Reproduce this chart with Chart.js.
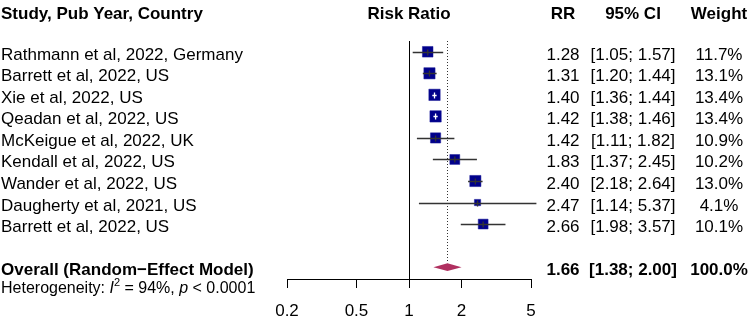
<!DOCTYPE html>
<html>
<head>
<meta charset="utf-8">
<title>Forest plot - risk ratio</title>
<script src="https://cdn.jsdelivr.net/npm/chart.js@4.4.0/dist/chart.umd.min.js"></script>
<style>
  body { margin: 0; background: #ffffff; }
  #wrap { position: relative; width: 751px; height: 323px; }
</style>
</head>
<body>
<div id="wrap"><canvas id="forest"></canvas></div>
<script>
// studies, top to bottom
var studies = [
	"Rathmann et al, 2022, Germany",
	"Barrett et al, 2022, US",
	"Xie et al, 2022, US",
	"Qeadan et al, 2022, US",
	"McKeigue et al, 2022, UK",
	"Kendall et al, 2022, US",
	"Wander et al, 2022, US",
	"Daugherty et al, 2021, US",
	"Barrett et al, 2022, US"
];
var rr = [1.28, 1.31, 1.40, 1.42, 1.42, 1.83, 2.40, 2.47, 2.66];
var ciLow = [1.05, 1.20, 1.36, 1.38, 1.11, 1.37, 2.18, 1.14, 1.98];
var ciHigh = [1.57, 1.44, 1.44, 1.46, 1.82, 2.45, 2.64, 5.37, 3.57];
var weights = [11.7, 13.1, 13.4, 13.4, 10.9, 10.2, 13.0, 4.1, 10.1];

// pooled estimate
var overallLabel = "Overall (Random\u2212Effect Model)";
var overall = [1.66, 1.38, 2.00];   // RR, low, high
var overallWeight = 100.0;
var heterogeneity = ["94%", "< 0.0001"];  // I^2, p

var xTicks = [0.2, 0.5, 1, 2, 5];

var FONT = '"Liberation Sans", Arial, Helvetica, sans-serif';
var overallRow = studies.length + 1;

// column centres (px) for the right hand text table
var colRR = 563, colCI = 633, colW = 719;

function squareSide(w) {
	return 3.1 * Math.sqrt(w);
}

var squareData = rr.map(function (v, i) { return { x: v, y: i }; });
var squareRadius = weights.map(function (w) { return squareSide(w) / Math.SQRT2; });

var forestPlugin = {
	id: 'forest',
	beforeDatasetsDraw: function (chart) {
		var ctx = chart.ctx, xs = chart.scales.x, ys = chart.scales.y, area = chart.chartArea;
		ctx.save();
		// line of no effect
		var x1 = Math.round(xs.getPixelForValue(1)) + 0.5;
		ctx.strokeStyle = '#000';
		ctx.lineWidth = 1;
		ctx.beginPath();
		ctx.moveTo(x1, area.top);
		ctx.lineTo(x1, area.bottom);
		ctx.stroke();
		// dotted line at the pooled estimate
		var xo = Math.round(xs.getPixelForValue(overall[0])) + 0.5;
		ctx.setLineDash([1, 2]);
		ctx.strokeStyle = '#333';
		ctx.beginPath();
		ctx.moveTo(xo, area.top);
		ctx.lineTo(xo, ys.getPixelForValue(overallRow) - 4);
		ctx.stroke();
		ctx.restore();
	},
	afterDatasetsDraw: function (chart) {
		var ctx = chart.ctx, xs = chart.scales.x, ys = chart.scales.y, area = chart.chartArea;
		ctx.save();

		// confidence intervals drawn over the squares
		rr.forEach(function (v, i) {
			var y = Math.round(ys.getPixelForValue(i)) + 0.5;
			var xl = xs.getPixelForValue(ciLow[i]);
			var xh = xs.getPixelForValue(ciHigh[i]);
			var xm = xs.getPixelForValue(v);
			var half = squareSide(weights[i]) / 2;
			var inside = (xl > xm - half) && (xh < xm + half);
			ctx.strokeStyle = inside ? '#ffffff' : '#333333';
			ctx.lineWidth = 1.3;
			ctx.beginPath();
			ctx.moveTo(xl, y);
			ctx.lineTo(xh, y);
			ctx.moveTo(xm, y - 3);
			ctx.lineTo(xm, y + 3);
			ctx.stroke();
		});

		// diamond for the overall effect
		var yo = ys.getPixelForValue(overallRow);
		ctx.fillStyle = '#B03060';
		ctx.beginPath();
		ctx.moveTo(xs.getPixelForValue(overall[1]), yo);
		ctx.lineTo(xs.getPixelForValue(overall[0]), yo - 3.8);
		ctx.lineTo(xs.getPixelForValue(overall[2]), yo);
		ctx.lineTo(xs.getPixelForValue(overall[0]), yo + 3.8);
		ctx.closePath();
		ctx.fill();

		// text table
		ctx.fillStyle = '#000';
		ctx.textBaseline = 'alphabetic';
		var off = 8;
		var yh = ys.getPixelForValue(-1.9) + off;
		ctx.font = 'bold 17px ' + FONT;
		ctx.textAlign = 'left';
		ctx.fillText("Study, Pub Year, Country", 1, yh);
		ctx.textAlign = 'center';
		ctx.fillText("Risk Ratio", (area.left + area.right) / 2, yh);
		ctx.fillText("RR", colRR, yh);
		ctx.fillText("95% CI", colCI, yh);
		ctx.fillText("Weight", colW, yh);

		ctx.font = '17px ' + FONT;
		studies.forEach(function (s, i) {
			var y = ys.getPixelForValue(i) + off;
			ctx.textAlign = 'left';
			ctx.fillText(s, 1, y);
			ctx.textAlign = 'center';
			ctx.fillText(rr[i].toFixed(2), colRR, y);
			ctx.fillText("[" + ciLow[i].toFixed(2) + "; " + ciHigh[i].toFixed(2) + "]", colCI, y);
			ctx.fillText(weights[i].toFixed(1) + "%", colW, y);
		});

		var yb = yo + off;
		ctx.font = 'bold 17px ' + FONT;
		ctx.textAlign = 'left';
		ctx.fillText(overallLabel, 1, yb);
		ctx.textAlign = 'center';
		ctx.fillText(overall[0].toFixed(2), colRR, yb);
		ctx.fillText("[" + overall[1].toFixed(2) + "; " + overall[2].toFixed(2) + "]", colCI, yb);
		ctx.fillText(overallWeight.toFixed(1) + "%", colW, yb);

		// heterogeneity line, mixed italic / superscript
		var yt = ys.getPixelForValue(overallRow + 0.92) + 6;
		var x = 1;
		ctx.textAlign = 'left';
		var parts = [
			["Heterogeneity: ", '16px ', 0],
			["I", 'italic 16px ', 0],
			["2", '11px ', -7],
			[" = " + heterogeneity[0] + ", ", '16px ', 0],
			["p", 'italic 16px ', 0],
			[" " + heterogeneity[1], '16px ', 0]
		];
		parts.forEach(function (p) {
			ctx.font = p[1] + FONT;
			ctx.fillText(p[0], x, yt + p[2]);
			x += ctx.measureText(p[0]).width;
		});
		ctx.restore();
	}
};

var chart = new Chart(document.getElementById('forest').getContext('2d'), {
	type: 'scatter',
	data: {
		datasets: [{
			data: squareData,
			pointStyle: 'rect',
			pointRadius: squareRadius,
			backgroundColor: '#00008B',
			borderColor: '#1a1a99',
			borderWidth: 0.5,
			clip: false
		}]
	},
	options: {
		responsive: true,
		maintainAspectRatio: false,
		animation: false,
		events: [],
		// tick labels sit one text line under the axis, so the axis box runs past the canvas
		layout: { padding: { left: 287, right: 220, top: 41, bottom: -11 } },
		plugins: { legend: { display: false }, tooltip: { enabled: false } },
		scales: {
			x: {
				type: 'logarithmic',
				min: xTicks[0],
				max: xTicks[xTicks.length - 1],
				afterBuildTicks: function (axis) {
					axis.ticks = xTicks.map(function (v) { return { value: v }; });
				},
				grid: { display: true, drawOnChartArea: false, drawTicks: true, tickLength: 9, tickColor: '#000', tickWidth: 1 },
				border: { display: true, color: '#000', width: 1 },
				ticks: {
					color: '#000',
					padding: 4,
					maxRotation: 0,
					autoSkip: false,
					font: { family: FONT, size: 17, lineHeight: 2.235 },
					callback: function (value) { return String(value); }
				}
			},
			y: {
				type: 'linear',
				display: false,
				reverse: true,
				min: -0.5,
				max: 10.55
			}
		}
	},
	plugins: [forestPlugin]
});
</script>
</body>
</html>
